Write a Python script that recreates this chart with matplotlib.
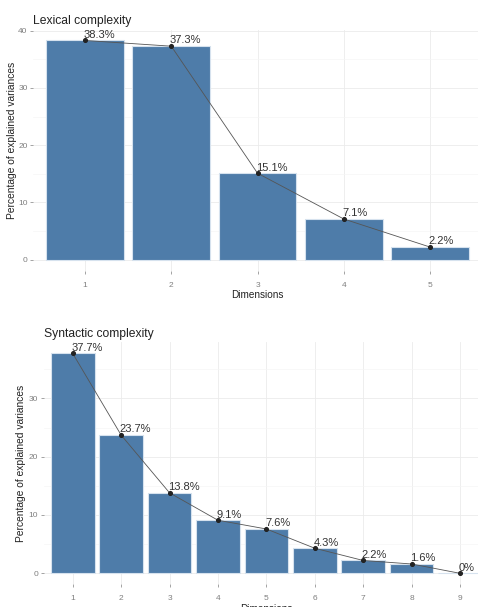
import numpy as np
import matplotlib.pyplot as plt
from matplotlib.ticker import MultipleLocator

plt.rcParams["font.family"] = ["Liberation Sans", "DejaVu Sans"]

# =========================================================
# DATA
# =========================================================

lex_dims = [1, 2, 3, 4, 5]
lex_var = [38.3, 37.3, 15.1, 7.1, 2.2]

syn_dims = [1, 2, 3, 4, 5, 6, 7, 8, 9]
syn_var = [37.7, 23.7, 13.8, 9.1, 7.6, 4.3, 2.2, 1.6, 0.0]

BAR_COLOR = "#4E7CA9"
BAR_EDGE = "#D6E2EE"
GRID = "#EBEBEB"
GRID_MINOR = "#F5F5F5"
TICK_COLOR = "#7F7F7F"
TEXT_COLOR = "#333333"


def scree(ax, dims, values, title, yticks):
    x = np.arange(len(dims)) + 1
    ax.bar(x, values, width=0.9, color=BAR_COLOR, edgecolor=BAR_EDGE,
           linewidth=0.8, zorder=2)
    ax.plot(x, values, color="#555555", linewidth=0.6, zorder=3)
    ax.scatter(x, values, s=7, color="#222222", zorder=4)
    for xi, v in zip(x, values):
        label = f"{v:g}%" if v != 0 else "0%"
        ax.annotate(label, (xi, v), xytext=(-1, 0.5), textcoords="offset points",
                    ha="left", va="bottom", fontsize=8, color=TEXT_COLOR, zorder=5)

    vmax = max(values)
    ax.set_xlim(0.4, len(dims) + 0.6)
    ax.set_ylim(-0.05 * vmax, 1.05 * vmax)
    ax.set_xticks(x)
    ax.set_xticklabels([str(d) for d in dims])
    ax.set_yticks(yticks)
    ax.yaxis.set_minor_locator(MultipleLocator(5))

    ax.grid(True, which="major", color=GRID, linewidth=0.6, zorder=0)
    ax.grid(True, which="minor", axis="y", color=GRID_MINOR, linewidth=0.5, zorder=0)
    ax.set_axisbelow(True)
    for s in ax.spines.values():
        s.set_visible(False)
    ax.tick_params(axis="both", which="major", length=2, width=0.5,
                   color=TICK_COLOR, labelcolor=TICK_COLOR, labelsize=6, pad=2)
    ax.tick_params(axis="x", pad=6)
    ax.tick_params(which="minor", length=0)

    ax.set_title(title, loc="left", fontsize=8.7, color="#222222", pad=4)
    ax.set_xlabel("Dimensions", fontsize=7.2, color="#222222", labelpad=1)
    ax.set_ylabel("Percentage of explained variances", fontsize=7.4,
                  color="#222222", labelpad=2)


fig = plt.figure(figsize=(4.78, 6.07), dpi=100)

ax1 = fig.add_axes([0.0695, 0.5542, 0.9385, 0.3972])
scree(ax1, lex_dims, lex_var, "Lexical complexity", [0, 10, 20, 30, 40])
ax1.yaxis.set_label_coords(-0.036, 0.54)

ax2 = fig.add_axes([0.0914, 0.0374, 0.9316, 0.3984])
scree(ax2, syn_dims, syn_var, "Syntactic complexity", [0, 10, 20, 30])

fig.savefig("out.png", dpi=100)
